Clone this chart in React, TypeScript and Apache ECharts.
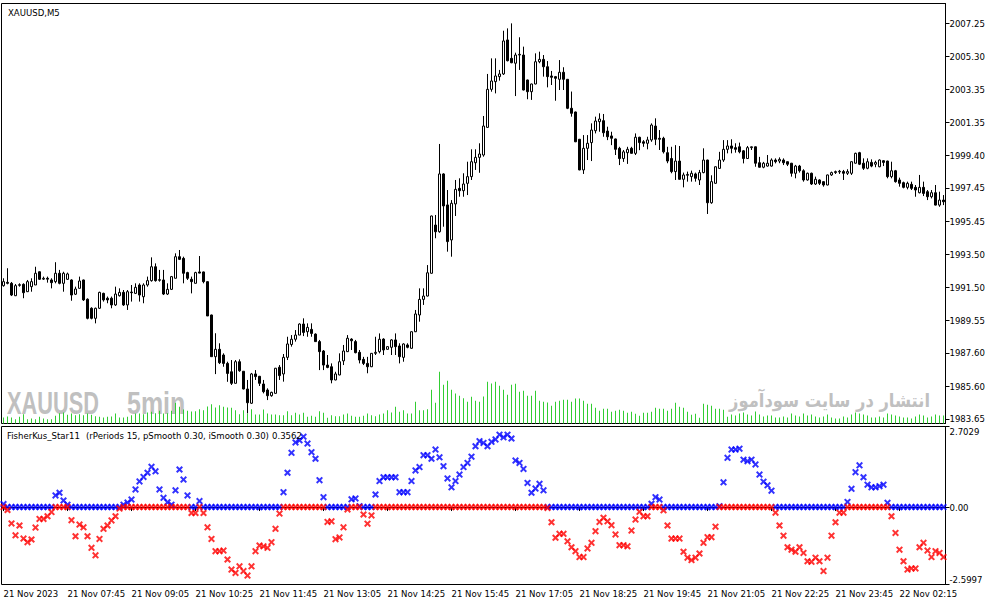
import React, { useEffect, useRef } from 'react';
import * as echarts from 'echarts';

// ---------- data (XAUUSD M5, 21-22 Nov 2023) ----------
const OPEN = [
  1991.61, 1991.81, 1991.75, 1991.01, 1991.63, 1991.69, 1991.25, 1991.55, 1991.65, 1992.44,
  1992.00, 1992.05, 1991.95, 1991.85, 1992.35, 1991.75, 1991.99, 1991.95, 1991.10, 1991.45,
  1991.95, 1990.80, 1990.26, 1989.66, 1990.26, 1991.15, 1990.86, 1990.86, 1990.46, 1991.01,
  1991.21, 1990.46, 1991.23, 1991.15, 1991.65, 1990.95, 1991.65, 1991.91, 1992.74, 1991.93,
  1991.95, 1991.11, 1991.39, 1992.05, 1993.34, 1993.24, 1992.39, 1991.99, 1991.75, 1992.43,
  1992.43, 1991.85, 1989.86, 1987.37, 1987.81, 1987.47, 1986.97, 1986.47, 1985.78, 1987.07,
  1986.50, 1985.44, 1984.59, 1986.34, 1986.20, 1985.74, 1985.38, 1985.04, 1985.18, 1986.74,
  1986.34, 1987.33, 1988.10, 1988.41, 1988.66, 1989.32, 1988.86, 1989.00, 1988.72, 1988.27,
  1987.71, 1986.87, 1986.77, 1985.98, 1986.28, 1987.12, 1987.67, 1988.42, 1988.27, 1987.63,
  1987.21, 1986.97, 1986.77, 1987.57, 1987.67, 1988.42, 1987.81, 1987.93, 1988.37, 1988.01,
  1987.33, 1988.07, 1987.87, 1988.86, 1989.86, 1990.79, 1990.99, 1992.35, 1995.23, 1994.83,
  1998.28, 1996.43, 1994.34, 1996.49, 1997.42, 1997.28, 1997.72, 1998.12, 1998.95, 1999.27,
  1999.41, 2001.06, 2003.33, 2003.79, 2004.09, 2004.25, 2006.28, 2005.18, 2004.89, 2005.38,
  2005.38, 2003.89, 2003.19, 2003.65, 2004.98, 2005.12, 2004.68, 2004.13, 2004.09, 2003.93,
  2004.35, 2003.93, 2002.20, 2001.98, 2000.35, 1998.52, 1999.81, 2000.15, 2000.86, 2001.40,
  2001.46, 2000.84, 2000.55, 2000.37, 1999.81, 1999.20, 1999.55, 1999.81, 1999.51, 2000.47,
  2000.20, 2000.11, 2000.31, 2001.14, 2000.41, 2000.41, 1999.55, 1999.20, 1998.42, 1999.05,
  1997.96, 1998.20, 1998.12, 1998.28, 1997.92, 1998.36, 1999.11, 1996.56, 1997.72, 1998.61,
  1999.11, 1999.75, 1999.95, 1999.85, 1999.90, 1999.66, 1999.20, 1999.85, 1999.90, 1998.95,
  1998.68, 1998.75, 1998.75, 1999.11, 1999.05, 1999.11, 1999.01, 1998.92, 1998.32, 1998.75,
  1998.47, 1997.92, 1998.32, 1997.68, 1997.92, 1997.82, 1997.62, 1998.22, 1998.36, 1998.40,
  1998.42, 1998.32, 1998.32, 1998.92, 1999.55, 1998.92, 1998.62, 1998.97, 1998.86, 1998.71,
  1999.07, 1999.05, 1998.12, 1998.47, 1997.92, 1997.76, 1997.48, 1997.66, 1997.48, 1997.16,
  1997.48, 1997.22, 1996.92, 1997.16, 1996.42, 1996.72
];
const HIGH = [
  1992.05, 1992.65, 1991.83, 1991.71, 1991.75, 1991.75, 1991.95, 1992.05, 1992.74, 1992.46,
  1992.15, 1992.15, 1992.05, 1993.01, 1992.55, 1992.44, 1992.39, 1991.99, 1991.55, 1992.15,
  1991.97, 1990.85, 1990.32, 1990.30, 1991.25, 1991.19, 1990.96, 1990.96, 1991.55, 1991.45,
  1991.35, 1991.35, 1991.65, 1991.75, 1991.75, 1991.75, 1992.15, 1993.30, 1992.94, 1992.55,
  1992.55, 1991.75, 1992.19, 1993.54, 1993.74, 1993.34, 1992.44, 1992.15, 1992.44, 1993.38,
  1992.45, 1991.87, 1989.88, 1988.77, 1988.17, 1987.57, 1987.07, 1987.17, 1987.17, 1987.21,
  1986.50, 1985.98, 1986.40, 1986.57, 1986.22, 1985.98, 1985.48, 1985.28, 1986.70, 1986.87,
  1987.53, 1988.56, 1988.66, 1988.96, 1989.36, 1989.66, 1989.36, 1989.36, 1988.76, 1988.37,
  1987.77, 1987.47, 1986.97, 1986.47, 1987.57, 1988.07, 1988.66, 1988.47, 1988.37, 1987.77,
  1987.36, 1987.36, 1987.59, 1988.56, 1988.76, 1988.47, 1987.99, 1988.42, 1988.76, 1988.17,
  1988.17, 1988.17, 1988.88, 1990.16, 1991.45, 1991.45, 1992.84, 1995.79, 1995.83, 2000.07,
  1998.32, 1997.32, 1996.72, 1997.92, 1998.02, 1998.32, 1999.01, 1999.75, 1999.75, 2000.11,
  2001.74, 2004.25, 2005.18, 2005.18, 2004.49, 2006.83, 2006.97, 2007.27, 2005.52, 2006.44,
  2005.88, 2003.91, 2003.67, 2005.48, 2005.58, 2005.38, 2005.02, 2004.43, 2004.13, 2005.08,
  2004.65, 2003.95, 2003.20, 2002.00, 2000.37, 2000.60, 2000.60, 2001.30, 2001.70, 2001.90,
  2001.86, 2001.10, 2000.80, 2000.39, 1999.90, 1999.71, 1999.90, 1999.90, 2000.70, 2000.50,
  2000.30, 2000.50, 2001.30, 2001.60, 2000.90, 2000.50, 1999.90, 1999.90, 2000.00, 1999.95,
  1998.36, 1998.42, 1998.48, 1998.36, 1998.52, 1999.81, 1999.13, 1998.20, 1998.73, 1999.60,
  2000.30, 2000.30, 2000.35, 2000.11, 2000.15, 1999.71, 1999.95, 1999.92, 1999.92, 1999.30,
  1999.00, 1999.41, 1999.21, 1999.21, 1999.27, 1999.21, 1999.03, 1998.94, 1998.82, 1998.82,
  1998.56, 1998.36, 1998.36, 1998.12, 1997.96, 1997.84, 1998.24, 1998.42, 1998.48, 1998.52,
  1998.52, 1998.56, 1999.03, 1999.55, 1999.60, 1999.21, 1999.21, 1999.15, 1999.07, 1999.15,
  1999.11, 1999.07, 1999.01, 1998.52, 1998.06, 1997.82, 1997.82, 1997.82, 1997.62, 1998.22,
  1997.82, 1997.32, 1997.32, 1997.62, 1997.22, 1997.02
];
const LOW = [
  1991.55, 1991.69, 1990.99, 1990.99, 1991.55, 1990.86, 1991.23, 1991.25, 1991.65, 1991.95,
  1991.95, 1991.79, 1991.45, 1991.75, 1991.69, 1991.25, 1991.95, 1990.71, 1991.05, 1991.45,
  1990.70, 1989.60, 1989.60, 1989.36, 1990.22, 1990.66, 1990.56, 1990.26, 1990.40, 1990.96,
  1990.40, 1990.16, 1990.66, 1991.11, 1990.66, 1990.56, 1991.55, 1991.85, 1991.85, 1991.85,
  1991.05, 1991.05, 1991.35, 1992.05, 1993.14, 1991.75, 1991.95, 1991.15, 1991.75, 1992.35,
  1991.75, 1989.80, 1987.37, 1986.33, 1986.93, 1986.77, 1985.87, 1985.68, 1985.78, 1986.47,
  1985.42, 1983.99, 1984.55, 1985.98, 1985.62, 1985.18, 1984.78, 1984.98, 1985.18, 1985.98,
  1985.88, 1987.17, 1987.97, 1988.27, 1988.66, 1988.60, 1988.56, 1988.56, 1988.25, 1986.57,
  1986.57, 1986.68, 1985.78, 1985.96, 1986.26, 1986.87, 1987.65, 1987.77, 1987.57, 1986.97,
  1986.87, 1986.38, 1986.75, 1987.47, 1987.57, 1987.47, 1987.79, 1987.47, 1987.47, 1986.97,
  1987.07, 1987.87, 1987.85, 1988.84, 1989.46, 1990.46, 1990.97, 1992.33, 1994.44, 1994.77,
  1995.13, 1993.64, 1993.34, 1995.77, 1996.92, 1996.92, 1997.02, 1997.92, 1998.52, 1998.35,
  1999.31, 2001.04, 2003.19, 2003.09, 2003.85, 2004.19, 2005.00, 2004.89, 2002.93, 2004.49,
  2003.27, 2002.74, 2002.70, 2003.63, 2004.89, 2004.09, 2003.45, 2003.59, 2002.65, 2003.29,
  2003.29, 2002.15, 2001.70, 2000.18, 1998.50, 1998.28, 1999.11, 1999.05, 2000.70, 2000.80,
  2000.50, 2000.30, 2000.00, 1999.41, 1998.81, 1999.00, 1998.88, 1999.50, 1999.41, 1999.70,
  1999.90, 1999.75, 2000.20, 2000.00, 1999.71, 1999.50, 1998.92, 1998.32, 1997.92, 1997.94,
  1997.48, 1997.82, 1997.82, 1997.82, 1997.62, 1998.32, 1995.89, 1996.50, 1997.70, 1998.59,
  1999.00, 1999.51, 1999.51, 1999.55, 1999.51, 1998.91, 1999.18, 1999.71, 1998.71, 1998.66,
  1998.62, 1998.72, 1998.72, 1998.91, 1998.92, 1998.81, 1998.75, 1998.12, 1998.02, 1998.36,
  1997.82, 1997.88, 1997.62, 1997.62, 1997.62, 1997.52, 1997.60, 1998.16, 1998.28, 1998.28,
  1997.92, 1998.22, 1998.22, 1998.90, 1998.81, 1998.52, 1998.56, 1998.68, 1998.68, 1998.68,
  1998.75, 1998.02, 1998.02, 1997.76, 1997.52, 1997.42, 1997.36, 1997.32, 1996.92, 1997.12,
  1996.96, 1996.72, 1996.82, 1996.40, 1996.32, 1996.42
];
const CLOSE = [
  1991.85, 1991.75, 1991.05, 1991.61, 1991.67, 1991.19, 1991.85, 1991.85, 1992.35, 1991.99,
  1992.05, 1992.00, 1991.79, 1992.35, 1991.75, 1992.35, 1992.31, 1991.05, 1991.41, 1991.89,
  1990.76, 1989.66, 1989.66, 1990.26, 1991.21, 1990.76, 1990.76, 1990.46, 1991.11, 1991.21,
  1990.46, 1991.25, 1991.19, 1991.51, 1991.05, 1991.65, 1991.91, 1992.74, 1991.91, 1991.97,
  1991.11, 1991.39, 1992.15, 1993.34, 1993.18, 1992.35, 1992.05, 1991.85, 1992.39, 1992.36,
  1991.85, 1989.80, 1987.37, 1987.81, 1987.01, 1986.97, 1986.37, 1985.78, 1987.07, 1986.53,
  1985.44, 1984.62, 1986.34, 1986.18, 1985.78, 1985.28, 1985.04, 1985.24, 1986.68, 1986.24,
  1987.33, 1988.13, 1988.41, 1988.66, 1989.32, 1988.82, 1989.12, 1988.76, 1988.27, 1987.67,
  1986.87, 1986.73, 1985.98, 1986.34, 1987.07, 1987.71, 1988.47, 1988.32, 1987.61, 1987.17,
  1986.97, 1986.77, 1987.57, 1987.63, 1988.41, 1987.77, 1987.97, 1988.37, 1987.97, 1987.37,
  1988.13, 1987.93, 1988.86, 1989.92, 1990.79, 1990.99, 1992.38, 1995.77, 1994.83, 1998.28,
  1996.37, 1994.24, 1996.53, 1997.36, 1997.28, 1997.68, 1998.12, 1999.01, 1999.27, 1999.47,
  2001.14, 2003.33, 2003.83, 2004.13, 2004.25, 2006.22, 2005.04, 2004.92, 2005.38, 2005.42,
  2003.29, 2003.19, 2003.65, 2004.98, 2005.12, 2004.68, 2004.09, 2004.05, 2003.99, 2004.35,
  2003.93, 2002.20, 2001.90, 2000.20, 1998.52, 1999.81, 2000.11, 2000.90, 2001.44, 2001.56,
  2000.74, 2000.50, 2000.41, 1999.75, 1999.20, 1999.60, 1999.75, 1999.51, 2000.47, 2000.15,
  2000.11, 2000.31, 2001.20, 2000.35, 2000.35, 1999.60, 1999.05, 1998.42, 1999.05, 1997.96,
  1998.22, 1998.25, 1998.32, 1998.02, 1998.36, 1999.11, 1996.56, 1997.82, 1998.71, 1999.11,
  1999.75, 1999.95, 1999.81, 1999.75, 1999.60, 1999.20, 1999.85, 1999.90, 1998.92, 1998.68,
  1998.92, 1998.92, 1999.11, 1999.01, 1999.15, 1998.95, 1998.86, 1998.32, 1998.75, 1998.47,
  1997.92, 1998.32, 1997.68, 1997.96, 1997.72, 1997.62, 1998.22, 1998.36, 1998.42, 1998.44,
  1998.32, 1998.42, 1999.01, 1999.51, 1998.86, 1998.62, 1999.01, 1998.75, 1998.97, 1999.11,
  1998.97, 1998.12, 1998.47, 1997.82, 1997.72, 1997.48, 1997.72, 1997.42, 1997.32, 1997.48,
  1997.12, 1996.92, 1997.16, 1996.42, 1996.72, 1996.62
];
const VOLUME = [
  120, 140, 120, 86, 134, 186, 86, 100, 86, 134, 100, 86, 86, 154,
  206, 220, 174, 200, 166, 186, 166, 200, 174, 146, 134, 120, 134, 140,
  200, 120, 120, 134, 166, 200, 200, 186, 220, 234, 206, 254, 200, 206,
  254, 414, 334, 280, 254, 240, 246, 286, 266, 340, 386, 320, 366, 334, 320,
  314, 266, 186, 266, 200, 286, 180, 180, 280, 200, 180, 180, 166, 166, 246, 166, 214, 180, 214, 134,
  154, 134, 246, 214, 114, 166, 146, 146, 180, 200, 154, 134, 134, 154, 200, 166, 146, 180, 200, 266,
  220, 334, 234, 266, 200, 200, 434, 266, 266, 286,
  674, 414, 1034, 774, 854, 674, 600, 554, 506, 434, 534, 454, 434, 540, 834, 800, 834, 754, 674, 574,
  774, 794, 634, 654, 554, 554, 654, 454, 434, 420, 354, 434, 454, 474, 474, 434, 500, 500, 454, 394,
  394, 314, 254, 294, 294, 234, 254, 274, 254, 214, 234, 194, 154, 214, 214, 234, 314, 294, 294, 254,
  294, 414, 334, 314, 234, 174, 194, 114, 394, 374, 354, 294, 294, 274, 134,
  180, 160, 200, 220, 180, 160, 240, 180, 140, 160, 160, 120, 120, 140, 120, 200, 160, 140, 200, 160,
  180, 140, 120, 140, 180, 120, 100, 100, 140, 120, 180, 220, 200, 180, 160, 120, 120, 140, 120, 200,
  180, 160, 140, 120, 120, 100, 140, 180, 160, 120, 140, 180, 160, 160
];
const FISHER = [
  0.10, -0.10, -0.55, -0.95, -0.62, -1.06, -1.18, -1.09, -0.69, -0.40,
  -0.40, -0.31, -0.17, 0.39, 0.48, 0.22, 0.08, -0.44, -0.98, -0.59,
  -0.68, -0.98, -1.37, -1.62, -1.07, -0.73, -0.62, -0.45, -0.31, -0.05,
  0.08, 0.15, 0.25, 0.59, 0.86, 1.01, 1.15, 1.35, 1.20, 0.59,
  0.31, 0.16, 0.08, 0.56, 1.26, 0.92, 0.39, -0.20, -0.20, 0.20,
  -0.20, -0.68, -1.07, -1.48, -1.48, -1.46, -1.76, -2.10, -2.21, -1.99,
  -2.15, -2.30, -1.99, -1.48, -1.29, -1.32, -1.37, -1.18, -0.73, -0.22,
  0.50, 1.15, 1.82, 2.17, 2.24, 2.36, 2.13, 1.84, 1.62, 0.90,
  0.33, -0.50, -0.48, -1.08, -1.02, -0.68, -0.08, 0.26, 0.29, 0.03,
  -0.25, -0.56, -0.28, 0.42, 0.87, 1.00, 1.00, 1.00, 1.00, 0.50,
  0.50, 0.50, 0.87, 1.23, 1.34, 1.74, 1.74, 1.62, 1.93, 1.67,
  1.37, 0.96, 0.66, 0.87, 1.09, 1.34, 1.48, 1.69, 2.04, 2.21,
  2.15, 2.04, 2.19, 2.27, 2.43, 2.34, 2.43, 2.30, 1.56, 1.48,
  1.28, 0.81, 0.48, 0.62, 0.78, 0.56, -0.03, -0.51, -1.03, -0.90,
  -0.90, -1.15, -1.35, -1.48, -1.68, -1.68, -1.39, -1.20, -0.81, -0.50,
  -0.36, -0.48, -0.61, -0.92, -1.28, -1.28, -1.32, -0.79, -0.42, -0.16,
  -0.31, -0.31, 0.11, 0.33, 0.25, -0.11, -0.62, -1.06, -1.06, -1.06,
  -1.50, -1.70, -1.78, -1.70, -1.56, -1.20, -1.01, -1.01, -0.66, 0.03,
  0.83, 1.65, 1.93, 1.93, 1.96, 1.59, 1.54, 1.59, 1.43, 1.09,
  0.85, 0.73, 0.55, -0.19, -0.62, -0.96, -1.35, -1.43, -1.50, -1.35,
  -1.54, -1.82, -1.84, -1.70, -1.82, -2.15, -1.70, -0.96, -0.51, -0.19,
  -0.19, 0.17, 0.61, 1.17, 1.40, 1.00, 0.75, 0.66, 0.66, 0.70,
  0.75, 0.14, -0.31, -0.87, -1.43, -1.82, -2.10, -2.06, -2.06, -1.35,
  -1.20, -1.46, -1.68, -1.48, -1.54, -1.68
];
const PRICE_TICKS = [2007.25, 2005.30, 2003.35, 2001.35, 1999.40, 1997.45, 1995.45, 1993.50, 1991.50, 1989.55, 1987.60, 1985.60, 1983.65];
const FISHER_TICKS = [-2.5997, 0, 2.7029];
const DATE_LABELS = [
  '21 Nov 2023', '21 Nov 07:45', '21 Nov 09:05', '21 Nov 10:25', '21 Nov 11:45',
  '21 Nov 13:05', '21 Nov 14:25', '21 Nov 15:45', '21 Nov 17:05', '21 Nov 18:25',
  '21 Nov 19:45', '21 Nov 21:05', '21 Nov 22:25', '21 Nov 23:45', '22 Nov 02:15'
];
const LABEL_EVERY = 16;
const PRICE_MIN = 1983.381;
const PRICE_MAX = 2008.456;
const VOLUME_MAX = 8400;

const FONT = "'DejaVu Sans Condensed', Roboto, sans-serif";
const X_SYMBOL = 'path://M0,2L2,0L5,3L8,0L10,2L7,5L10,8L8,10L5,7L2,10L0,8L3,5Z';

export default function App() {
  const ref = useRef<HTMLDivElement>(null);

  useEffect(() => {
    if (!ref.current) return;
    const chart = echarts.init(ref.current, null, { renderer: 'svg' });
    const cats = CLOSE.map((_, i) => String(i));
    const candles = CLOSE.map((c, i) => [OPEN[i], c, LOW[i], HIGH[i]]);
    const blue = FISHER.map((v) => (v > 0 ? v : 0));
    const red = FISHER.map((v) => (v < 0 ? v : 0));

    const option: any = {
      animation: false,
      backgroundColor: '#ffffff',
      grid: [
        { left: 1.5, right: 45.5, top: 3.5, height: 420, show: true, borderColor: '#000', borderWidth: 1, backgroundColor: '#fff' },
        { left: 1.5, right: 45.5, top: 426.5, height: 158, show: true, borderColor: '#000', borderWidth: 1, backgroundColor: '#fff' }
      ],
      xAxis: [
        {
          type: 'category', gridIndex: 0, data: cats, boundaryGap: true,
          axisLine: { show: false }, axisTick: { show: false }, axisLabel: { show: false }, splitLine: { show: false }
        },
        {
          type: 'category', gridIndex: 1, data: cats, boundaryGap: true,
          axisLine: { show: true, lineStyle: { color: '#000', width: 1 } },
          axisTick: { show: true, interval: LABEL_EVERY - 1, alignWithLabel: true, length: 4, lineStyle: { color: '#000' } },
          axisLabel: {
            show: true, interval: LABEL_EVERY - 1, align: 'left', margin: 4,
            color: '#000', fontFamily: FONT, fontSize: 9.5,
            formatter: (_v: string, i: number) => (i % LABEL_EVERY === 0 ? DATE_LABELS[i / LABEL_EVERY] || '' : '')
          },
          splitLine: { show: false }
        }
      ],
      yAxis: [
        {
          type: 'value', gridIndex: 0, position: 'right', min: PRICE_MIN, max: PRICE_MAX,
          axisLine: { show: true, lineStyle: { color: '#000', width: 1 } },
          axisTick: { show: true, length: 4, customValues: PRICE_TICKS, lineStyle: { color: '#000' } },
          axisLabel: {
            show: true, customValues: PRICE_TICKS, margin: 4, color: '#000', fontFamily: FONT, fontSize: 9.5,
            formatter: (v: number) => v.toFixed(2)
          },
          splitLine: { show: false }
        },
        {
          type: 'value', gridIndex: 0, min: 0, max: VOLUME_MAX, show: false, splitLine: { show: false }
        },
        {
          type: 'value', gridIndex: 1, position: 'right', min: FISHER_TICKS[0], max: FISHER_TICKS[2],
          axisLine: { show: true, lineStyle: { color: '#000', width: 1 } },
          axisTick: { show: true, length: 4, customValues: FISHER_TICKS, lineStyle: { color: '#000' } },
          axisLabel: {
            show: true, customValues: FISHER_TICKS, margin: 4, color: '#000', fontFamily: FONT, fontSize: 9.5,
            verticalAlignMaxLabel: 'top', verticalAlignMinLabel: 'bottom',
            formatter: (v: number) => (v === 0 ? '0.00' : v.toFixed(4))
          },
          splitLine: { show: false }
        }
      ],
      series: [
        {
          type: 'bar', name: 'Volume', xAxisIndex: 0, yAxisIndex: 1, data: VOLUME,
          barWidth: 1, itemStyle: { color: '#32CD32' }, silent: true, z: 1
        },
        {
          type: 'candlestick', name: 'XAUUSD', xAxisIndex: 0, yAxisIndex: 0, data: candles,
          barWidth: 2,
          itemStyle: { color: '#ffffff', color0: '#000000', borderColor: '#000000', borderColor0: '#000000', borderWidth: 1 },
          silent: true, z: 3
        },
        {
          type: 'scatter', name: 'Up', xAxisIndex: 1, yAxisIndex: 2, data: blue,
          symbol: X_SYMBOL, symbolSize: 7, itemStyle: { color: '#0000ff' }, silent: true, z: 3
        },
        {
          type: 'scatter', name: 'Down', xAxisIndex: 1, yAxisIndex: 2, data: red,
          symbol: X_SYMBOL, symbolSize: 7, itemStyle: { color: '#ff0000' }, silent: true, z: 4
        }
      ],
      graphic: [
        { type: 'text', x: 8, y: 12, z: 10, style: { text: 'XAUUSD,M5', fill: '#000', font: `9.5px ${FONT}`, verticalAlign: 'middle' } },
        { type: 'text', x: 7, y: 435, z: 10, style: { text: 'FisherKus_Star11', fill: '#000', font: `9.5px ${FONT}`, verticalAlign: 'middle' } },
        { type: 'text', x: 86, y: 435, z: 10, style: { text: '(rPeriods 15, pSmooth 0.30, iSmooth 0.30)', fill: '#000', font: `9.5px ${FONT}`, verticalAlign: 'middle' } },
        { type: 'text', x: 272, y: 435, z: 10, style: { text: '0.3562', fill: '#000', font: `9.5px ${FONT}`, verticalAlign: 'middle' } },
        { type: 'text', x: 7, y: 403, scaleX: 0.68, z: 0, style: { text: 'XAUUSD', fill: '#C0C0C0', font: `bold 32px 'Liberation Sans', Arial, sans-serif`, verticalAlign: 'middle' } },
        { type: 'text', x: 127, y: 403, scaleX: 0.78, z: 0, style: { text: '5min', fill: '#C0C0C0', font: `bold 32px 'Liberation Sans', Arial, sans-serif`, verticalAlign: 'middle' } },
        { type: 'text', x: 930, y: 401, scaleX: 0.86, z: 0, style: { text: 'انتشار در سایت سودآموز', fill: '#C0C0C0', font: `bold 19px 'DejaVu Sans', sans-serif`, align: 'right', verticalAlign: 'middle' } }
      ]
    };

    chart.setOption(option);
    return () => chart.dispose();
  }, []);

  return (
    <div
      ref={ref}
      style={{ position: 'fixed', left: 0, top: 0, width: 991, height: 605, background: '#ffffff' }}
    />
  );
}
